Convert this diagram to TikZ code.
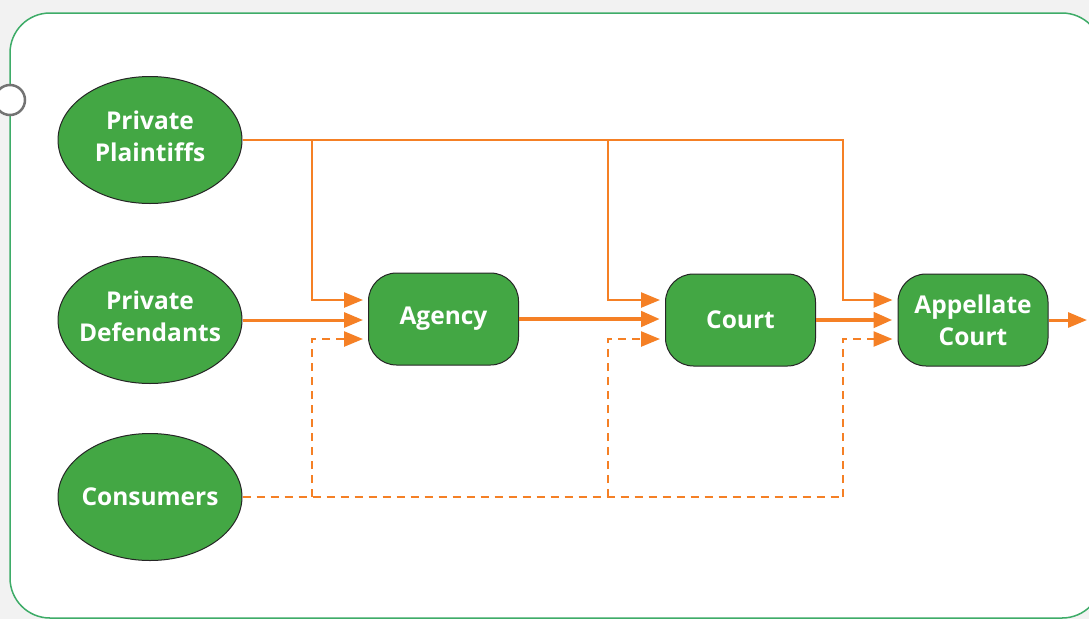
\documentclass[tikz,border=0pt]{standalone}
\usepackage{fontspec}
\setmainfont{Open Sans}
\usetikzlibrary{arrows.meta,shapes.geometric}
\definecolor{nodegreen}{RGB}{67,167,68}
\definecolor{flow}{RGB}{245,128,37}
\definecolor{framegreen}{RGB}{62,172,104}
\definecolor{bggray}{RGB}{242,242,242}
\begin{document}
\begin{tikzpicture}[x=1pt,y=-1pt,
  labeltext/.style={text=white, font=\bfseries\fontsize{24.5}{32}\selectfont, align=center, inner sep=0pt},
  party/.style={ellipse, draw=black!85, line width=1pt, fill=nodegreen,
    minimum width=184pt, minimum height=127pt, inner sep=0pt},
  forum/.style={rectangle, rounded corners=28pt, draw=black!85, line width=1pt,
    fill=nodegreen, minimum width=150pt, minimum height=92pt, inner sep=0pt, labeltext},
  flowline/.style={draw=flow, line width=2.5pt},
  arrowed/.style={-{Triangle[length=19pt,width=15pt]}, shorten >=5pt},
  dashedflow/.style={flowline, dash pattern=on 8pt off 6pt}
]
% canvas and frame
\fill[bggray] (0,0) rectangle (1089,619);
\useasboundingbox (0,0) rectangle (1089,619);
\begin{scope}
  \clip (0,0) rectangle (1089,619);
  \draw[framegreen, fill=white, line width=1.5pt, rounded corners=40pt] (10,13) rectangle (1102,618);
\end{scope}
\node[circle, draw=black!55, line width=2.5pt, fill=white, minimum size=30pt, inner sep=0pt] (knob) at (10,100) {};

% parties (fixed-size ovals, labels set on top)
\node[party] (pp) at (150,140) {};
\node[party] (pd) at (150,320) {};
\node[party] (cons) at (150,497) {};
\node[labeltext] (pplabel) at ([yshift=4pt]pp.center) {Private\\Plaintiffs};
\node[labeltext] (pdlabel) at ([yshift=4pt]pd.center) {Private\\Defendants};
\node[labeltext] (conslabel) at (cons.center) {Consumers};

% forums
\node[forum] (agency) at (443.5,319) {Agency};
\node[forum] (court) at (740.5,320) {Court};
\node[forum] (appeal) at (973,320) {Appellate\\Court};
\coordinate (exit) at (1087,320);

% branch points
\coordinate (topA) at (312,140);
\coordinate (topB) at (608,140);
\coordinate (topC) at (843,140);
\coordinate (botA) at (312,497);
\coordinate (botB) at (608,497);
\coordinate (botC) at (843,497);

% plaintiffs: solid bus along the top
\draw[flowline] (pp.east) -- (topB);
\draw[flowline, arrowed] (topA) |- ([yshift=19pt]agency.west);
\draw[flowline, arrowed] (topB) |- ([yshift=20pt]court.west);
\draw[flowline, arrowed] (pp.east -| topB) -- (topC) |- ([yshift=20pt]appeal.west);

% defendants and the main chain
\draw[flowline, line width=3pt, arrowed] (pd.east) -- (agency.west |- pd.east);
\draw[flowline, line width=4.5pt, arrowed] (agency.east) -- (court.west |- agency.east);
\draw[flowline, line width=4.5pt, arrowed] (court.east) -- (appeal.west);
\draw[flowline, line width=3pt, -{Triangle[length=19pt,width=15pt]}] (appeal.east) -- (exit);

% consumers: dashed bus along the bottom
\draw[dashedflow] (cons.east) -- (botC);
\draw[dashedflow, arrowed] (botA) |- ([yshift=-20pt]agency.west);
\draw[dashedflow, arrowed] (botB) |- ([yshift=-19pt]court.west);
\draw[dashedflow, arrowed] (botC) |- ([yshift=-19pt]appeal.west);
\end{tikzpicture}
\end{document}
